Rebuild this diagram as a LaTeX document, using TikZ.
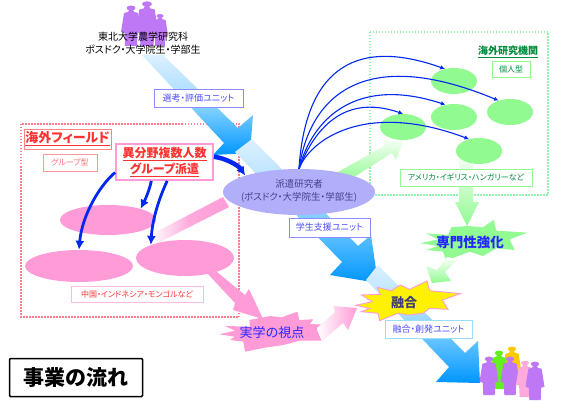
\documentclass[tikz,border=0pt]{standalone}
\usepackage{fontspec}
\setmainfont[RawFeature=+palt]{Noto Sans CJK JP}
\usepackage{xcolor}
\definecolor{unitblue}{RGB}{0,150,255}
\definecolor{unitmid}{RGB}{110,200,255}
\definecolor{unitpale}{RGB}{220,240,255}
\definecolor{curveblue}{RGB}{0,40,240}
\definecolor{fieldpink}{RGB}{255,155,215}
\definecolor{fieldred}{RGB}{255,50,50}
\definecolor{fielddot}{RGB}{255,125,140}
\definecolor{instgreen}{RGB}{145,250,145}
\definecolor{instdot}{RGB}{150,240,175}
\definecolor{instdark}{RGB}{0,140,60}
\definecolor{figpurple}{RGB}{190,120,245}
\definecolor{figyellow}{RGB}{255,200,0}
\definecolor{figgreen}{RGB}{100,240,30}
\definecolor{dispatchblue}{RGB}{178,175,250}
\usepackage{tikz}
\usetikzlibrary{arrows.meta,shapes.geometric}
\pgfdeclareverticalshading{unitflow}{100bp}{color(0bp)=(unitblue); color(25bp)=(unitblue); color(45bp)=(unitmid);
  color(55bp)=(unitmid!45!unitpale); color(75bp)=(unitpale); color(100bp)=(unitpale)}
\newcommand{\personfig}[4]{%
  \begin{scope}[shift={(#1,#2)},scale=#3]
    \fill[#4] (0,0) ellipse (4.5 and 2.5);
    \fill[#4] (-2,2) -- (2,2) -- (3,4) -- (7,5) -- (10,24) -- (6.5,25) -- (6,38) -- (-6,38)
      -- (-6.5,25) -- (-10,24) -- (-7,5) -- (-3,4) -- cycle;
  \end{scope}}
\begin{document}
\begin{tikzpicture}[x=1pt,y=-1pt,
      lbl/.style={rectangle,draw,fill=white,inner sep=0pt,align=center,line width=0.8pt},
      unitlbl/.style={lbl,draw=blue!45,text=blue!70,font=\fontsize{9}{10}\selectfont},
      pinkell/.style={ellipse,fill=fieldpink,inner sep=0pt},
      greenell/.style={ellipse,fill=instgreen,inner sep=0pt,minimum width=46pt,minimum height=26pt},
      bigarrow/.style={shading=unitflow},
      dotbox/.style={line width=1.2pt,dash pattern=on 1.5pt off 1.5pt},
      fatcurve/.style={draw=curveblue,line width=2.8pt,-{Latex[length=9pt,width=9pt]}},
      thincurve/.style={draw=curveblue,line width=1.1pt,-{Latex[length=4.5pt,width=4.5pt]}}]
    \useasboundingbox (0,0) rectangle (565,401);
    \fill[white] (0,0) rectangle (565,401);

    \draw[fielddot,dotbox] (21,124) rectangle (239,317);
    \draw[instdot,dotbox] (370,32) rectangle (548,195);

    \personfig{131}{8}{1}{figpurple}
    \personfig{160}{16}{0.8}{figpurple}
    \personfig{147}{4}{1.1}{figpurple}

    \shade[top color=instgreen!10,bottom color=instgreen] (403,141) -- (383,140) -- (384,146) -- (338,172)
      -- (346,182) -- (392,153) -- (396,160) -- cycle;
    \shade[top color=white,bottom color=instgreen] (459,150) -- (473,150) -- (473,202) -- (479,202)
      -- (467,226) -- (455,202) -- (459,202) -- cycle;
    \shade[left color=white,right color=fieldpink,middle color=fieldpink!85] (223,197) -- (229,207) -- (158,243) -- (150,235) -- cycle;

    \shade[bigarrow] (142,55) -- (163,55) -- (238,128) -- (253,115) -- (250,153) -- (213,155) -- (224,143) -- cycle;
    \shade[bigarrow] (252,139) -- (358,246) -- (371,235) -- (378,283) -- (330,275) -- (342,262) -- (235,152) -- cycle;
    \shade[bigarrow] (378,265) -- (465,353) -- (478,341) -- (480,383) -- (436,382) -- (449,367) -- (366,280) -- cycle;

    \node[pinkell,minimum width=96pt,minimum height=30pt] (pinka) at (108,220) {};
    \node[pinkell,minimum width=108pt,minimum height=32pt] (pinkb) at (79,266) {};
    \node[pinkell,minimum width=98pt,minimum height=36pt] (pinkc) at (185,258) {};

    \node[greenell] (insta) at (454,81) {};
    \node[greenell] (instb) at (510,112) {};
    \node[greenell] (instc) at (454,117) {};
    \node[greenell] (instd) at (403,127) {};
    \node[greenell] (inste) at (479,151) {};

    \fill[fieldpink] (207,273) -- (217,272) -- (245,295) -- (249,289) -- (263,319) -- (233,310) -- (235,303) -- cycle;

    \begin{scope}[shift={(210,270)},scale=0.3333]
      \fill[fieldpink] (28,193) -- (75,182) -- (45,168) -- (120,170) -- (118,150) -- (180,138) -- (215,142)
        -- (262,125) -- (268,150) -- (310,148) -- (300,162) -- (365,165) -- (320,178) -- (335,212) -- (270,212)
        -- (220,225) -- (165,233) -- (105,245) -- (100,215) -- (60,210) -- (75,200) -- cycle;
    \end{scope}
    \shade[left color=white,right color=fieldpink] (317,328) -- (335,312) -- (333,306) -- (357,308) -- (348,330)
      -- (343,323) -- (322,341) -- cycle;

    \begin{scope}[shift={(283,200)},scale=0.3333]
      \fill[instgreen] (413,130) -- (465,118) -- (430,100) -- (495,105) -- (505,82) -- (555,78) -- (600,82)
        -- (632,60) -- (640,92) -- (733,98) -- (680,118) -- (695,150) -- (640,145) -- (600,168) -- (560,155)
        -- (520,170) -- (490,182) -- (480,155) -- (430,150) -- (465,138) -- cycle;
      \filldraw[fill=yellow,draw=fieldpink,line width=0.9pt] (218,316) -- (268,305) -- (235,285) -- (292,283)
        -- (283,262) -- (325,272) -- (352,255) -- (380,268) -- (432,243) -- (440,272) -- (532,281) -- (478,300)
        -- (495,328) -- (440,325) -- (420,340) -- (375,345) -- (345,340) -- (290,362) -- (285,340) -- (235,335)
        -- (260,325) -- cycle;
    \end{scope}
    \shade[top color=white,bottom color=instgreen] (447,257) -- (458,259) -- (445,272) -- (451,281) -- (432,283)
      -- (426,266) -- (437,270) -- cycle;

    \node[ellipse,fill=dispatchblue,inner sep=0pt,minimum width=152pt,minimum height=46pt] (dispatch) at (299,192) {};
    \node[align=center,inner sep=0pt,text={rgb,255:red,65;green,65;blue,140},font=\fontsize{9.5}{13}\selectfont] (dispatchtext)
      at (299,191) {派遣研究者\\(ポスドク・大学院生・学部生)};

    \node[font=\fontsize{10}{13}\selectfont,align=center] (origin) at (143,43) {東北大学農学研究科\\ポスドク・大学院生・学部生};

    \node[unitlbl,minimum width=89pt,minimum height=18pt] (select) at (198.5,98) {選考・評価ユニット};
    \node[unitlbl,minimum width=81pt,minimum height=19pt] (support) at (329.5,227.5) {学生支援ユニット};
    \node[unitlbl,draw=cyan!40,minimum width=87pt,minimum height=18pt] (create) at (428.5,329) {融合・創発ユニット};

    \node[lbl,draw=fieldred!60,text=fieldred,minimum width=87pt,minimum height=20pt,
      font=\fontsize{13}{14}\selectfont\bfseries] (field) at (67.5,139) {\underline{海外フィールド}};
    \node[lbl,draw=fieldred!50,text=fieldred!70,minimum width=54pt,minimum height=17pt,
      font=\fontsize{8}{9}\selectfont] (fieldtype) at (70,162.5) {グループ型};
    \node[lbl,draw=fieldpink,text=fieldred,line width=1.8pt,minimum width=97pt,minimum height=36pt,
      font=\fontsize{12}{16}\selectfont\bfseries] (group) at (164.5,162) {\underline{異分野複数人数}\\\underline{グループ派遣}};
    \node[lbl,draw=fieldpink!70,text=fieldred,minimum width=132pt,minimum height=16pt,
      font=\fontsize{8}{9}\selectfont] (fieldplace) at (137,294) {中国・インドネシア・モンゴルなど};

    \node[text=instdark,font=\fontsize{10}{11}\selectfont\bfseries,inner sep=0pt] (inst) at (508,52) {\underline{海外研究機関}};
    \node[lbl,draw=instgreen,text=instdark,minimum width=38pt,minimum height=16pt,
      font=\fontsize{8}{9}\selectfont] (insttype) at (511,69) {個人型};
    \node[lbl,draw=instgreen,text=instdark,minimum width=132pt,minimum height=17pt,
      font=\fontsize{8}{9}\selectfont] (instplace) at (466,177.5) {アメリカ・イギリス・ハンガリーなど};

    \node[text=blue!85,font=\fontsize{13}{15}\selectfont,inner sep=0pt] (view) at (272,333) {実学の視点};
    \node[text=blue!85,font=\fontsize{13.5}{16}\selectfont\bfseries,inner sep=0pt] (expert) at (470,242) {専門性強化};
    \node[text={rgb,255:red,60;green,60;blue,120},font=\fontsize{13}{17}\selectfont\bfseries,inner sep=0pt] (merge) at (404,303) {融合};

    \node[rectangle,draw=black,line width=1.5pt,rounded corners=1pt,fill=white,minimum width=133pt,minimum height=38pt,
      inner sep=0pt,font=\fontsize{21}{24}\selectfont\bfseries] (title) at (76,377.5) {事業の流れ};

    \draw[fatcurve] (group.-168) .. controls (100,185) and (82,215) .. (pinkb.north);
    \draw[fatcurve] (group.-125) .. controls (150,188) and (146,198) .. (pinka.19);
    \draw[fatcurve] (group.-82) .. controls (156,205) and (152,225) .. (pinkc.159);
    \draw[fatcurve,line width=4.5pt] (group.6) .. controls (225,158) and (238,165) .. (dispatch.163);

    \draw[thincurve] (dispatch.north) .. controls (305,75) and (350,35) .. (insta.127);
    \draw[thincurve] (dispatch.north) .. controls (310,95) and (365,45) .. (instb.135);
    \draw[thincurve] (dispatch.north) .. controls (312,120) and (355,75) .. (instc.125);
    \draw[thincurve] (dispatch.north) .. controls (312,135) and (340,92) .. (instd.north);
    \draw[thincurve] (dispatch.north) .. controls (310,140) and (365,100) .. (inste.130);

    \personfig{512}{349}{0.95}{figyellow}
    \personfig{499}{353}{0.95}{figgreen}
    \personfig{489}{359}{0.95}{figpurple}
    \personfig{510}{359}{0.95}{figpurple}
    \personfig{525}{363}{0.9}{fieldpink!85!white}
    \personfig{535}{364}{0.95}{figpurple}
  \end{tikzpicture}
\end{document}
